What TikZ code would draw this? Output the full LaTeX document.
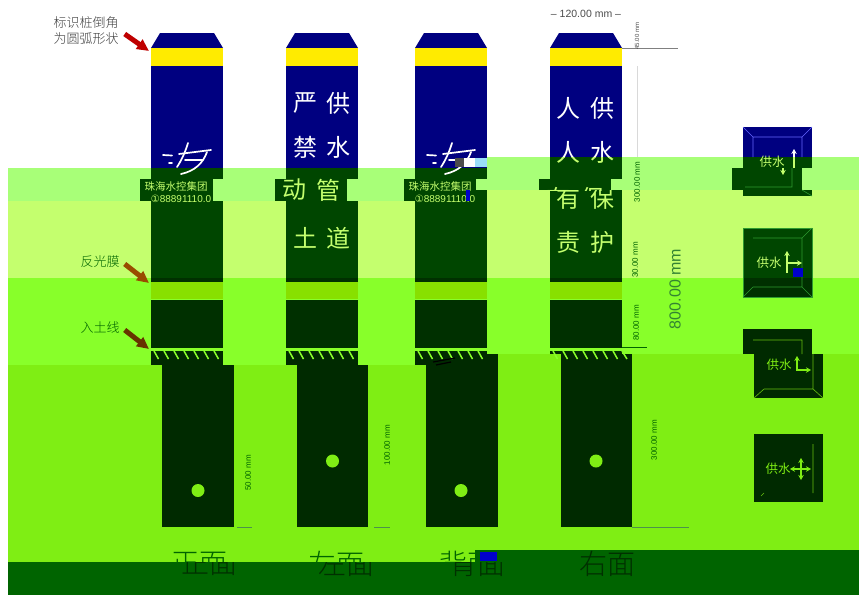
\documentclass[tikz,border=0pt]{standalone}
\usepackage{fontspec}
\setmainfont{Liberation Sans}
\newfontfamily\cjk{Noto Sans CJK SC}
\newfontfamily\cjkthin{Noto Sans CJK SC Light}
\newfontfamily\symb{DejaVu Sans}
\usetikzlibrary{arrows.meta}

\definecolor{bandA}{HTML}{A8FF78}
\definecolor{bandB}{HTML}{C4FF6E}
\definecolor{bandC}{HTML}{88FF2A}
\definecolor{bandD}{HTML}{7FEE14}
\definecolor{bandE}{HTML}{006400}
\definecolor{pilenavy}{HTML}{000080}
\definecolor{pileyellow}{HTML}{FFEB00}
\definecolor{pilegreen}{HTML}{004600}
\definecolor{pileshade}{HTML}{003000}
\definecolor{pilefoot}{HTML}{002A00}
\definecolor{pilefilm}{HTML}{88E000}
\definecolor{bevel}{HTML}{2E9A30}

\tikzset{
    pilechar/.style={font=\cjk\fontsize{24}{24}\selectfont, inner sep=0pt},
    facechar/.style={font=\cjkthin\fontsize{28}{28}\selectfont, inner sep=0pt},
    icontext/.style={font=\cjk\fontsize{12.5}{12.5}\selectfont, inner sep=0pt},
    notetext/.style={font=\cjkthin\fontsize{13}{13}\selectfont, inner sep=0pt},
    boardtext/.style={font=\cjk\fontsize{10.5}{11}\selectfont, inner sep=0pt, text=bandB},
    phonetext/.style={font=\fontsize{10}{10}\selectfont, inner sep=0pt, text=bandB},
    dimtext/.style={font=\fontsize{8}{8}\selectfont, inner sep=0pt, rotate=90},
    dimline/.style={draw=#1, line width=0.6pt},
    pointer/.style={-{Triangle[length=12pt, width=11pt]}, line width=5pt, draw=#1},
    logostroke/.style={draw=white, line width=1.7pt, line cap=round},
    iconhead/.style={-{Stealth[length=5pt, width=5.5pt]}, line width=1.4pt},
    iconarrow/.style={{Stealth[length=5pt, width=5.5pt]}-{Stealth[length=5pt, width=5.5pt]}, line width=1.4pt},
    iconedge/.style={draw=bevel, line width=0.6pt}
}

% text whose upper part sits on another band, shifted sideways
\newcommand{\cutchar}[9]{%
    \begin{scope}
        \clip (0,0) rectangle (859,#4);
        \node[#9, text=#6] (#1a) at (#2+#5,#3) {#8};
    \end{scope}
    \begin{scope}
        \clip (0,#4) rectangle (859,595);
        \node[#9, text=#7] (#1b) at (#2,#3) {#8};
    \end{scope}}

\begin{document}
\begin{tikzpicture}[x=1pt, y=-1pt]
    \useasboundingbox (0,0) rectangle (859,595);
    \fill[white] (0,0) rectangle (859,595);

    %bands
    \fill[bandA] (487,157) rectangle (859,168);
    \fill[bandA] (8,168) rectangle (859,190);
    \fill[bandA] (8,190) rectangle (415,201);
    \fill[bandB] (415,190) rectangle (859,278);
    \fill[bandB] (8,201) rectangle (415,278);
    \fill[bandC] (8,278) rectangle (859,354);
    \fill[bandC] (8,354) rectangle (487,365);
    \fill[bandD] (487,354) rectangle (859,365);
    \fill[bandD] (8,365) rectangle (859,550);
    \fill[bandD] (8,550) rectangle (475,562);
    \fill[bandE] (475,550) rectangle (859,562);
    \fill[bandE] (8,562) rectangle (859,595);

    %poles
    \foreach \px/\bot in {151/201, 286/201, 415/190, 550/190} {
        \fill[pilenavy] (\px,48) -- (\px+9,33) -- (\px+63,33) -- (\px+72,48) -- cycle;
        \fill[pileyellow] (\px,48) rectangle (\px+72,66);
        \fill[pilegreen] (\px,\bot) rectangle (\px+72,278);
        \fill[pileshade] (\px,278) rectangle (\px+72,282);
        \fill[pilefilm] (\px,282) rectangle (\px+72,299);
        \fill[pileshade] (\px,300) rectangle (\px+72,348);
    }
    \fill[pilenavy] (151,66) rectangle (223,168);
    \fill[pilenavy] (286,66) rectangle (358,168);
    \fill[pilenavy] (415,66) rectangle (487,168);
    \fill[pilenavy] (550,66) rectangle (622,157);
    \fill[pilegreen] (151,168) rectangle (223,179);
    \fill[pilegreen] (286,168) rectangle (358,179);
    \fill[pilegreen] (415,168) rectangle (487,179);
    \fill[pilegreen] (550,157) rectangle (622,179);

    %shifted boards
    \fill[pilegreen] (140,179) rectangle (213,201);
    \fill[pilegreen] (275,179) rectangle (347,201);
    \fill[pilegreen] (404,179) rectangle (476,201);
    \fill[pilegreen] (539,179) rectangle (611,190);

    %feet
    \fill[pilefoot] (151,351) rectangle (223,365);
    \fill[pilefoot] (286,351) rectangle (358,365);
    \fill[pilefoot] (415,351) rectangle (487,354);
    \fill[pilefoot] (415,354) rectangle (498,365);
    \fill[pilefoot] (550,351) rectangle (622,354);
    \fill[pilefoot] (162,365) rectangle (234,527);
    \fill[pilefoot] (297,365) rectangle (368,527);
    \fill[pilefoot] (426,365) rectangle (498,527);
    \fill[pilefoot] (561,354) rectangle (632,527);

    %hatching
    \foreach \px in {151, 286, 415, 550}
        \foreach \k in {0,...,6}
            \draw[bandC, line width=1.5pt] (\px+3+10*\k,351) -- (\px+7.5+10*\k,359);
    \draw[bandC, line width=1.5pt] (622,351) -- (627,359);

    %holes
    \fill[bandD] (198,490.5) circle (6.5);
    \fill[bandD] (332.5,461) circle (6.5);
    \fill[bandD] (461,490.5) circle (6.5);
    \fill[bandD] (596,461) circle (6.5);

    %logos
    \tikzset{logomark/.pic={
        \draw[logostroke] (0,12) -- (9,12.5) (6,20) -- (9,20);
        \draw[logostroke] (25,0) .. controls (22,10) and (18,18) .. (14,24);
        \draw[logostroke] (16,11) -- (48,7) (22,17) -- (40,17);
        \draw[logostroke] (44,9) .. controls (40,20) and (32,28) .. (18,31);
    }}
    \pic (logoa) at (163,143) {logomark};
    \pic (logob) at (427,143) {logomark};

    %pole texts
    \foreach \nm/\cx/\cy/\ch in {ya/305/103/严, yb/338/103/供, yc/305/147/禁, yd/338/147/水,
                                 re/568/108/人, rf/602/108/供}
        \node[pilechar, text=white] (\nm) at (\cx,\cy) {\ch};
    \cutchar{ye}{304}{190}{201}{-10}{bandB}{bandB}{动}{pilechar}
    \cutchar{yf}{338}{190}{201}{-10}{bandB}{bandB}{管}{pilechar}
    \node[pilechar, text=bandB] (yg) at (305,238) {土};
    \node[pilechar, text=bandB] (yh) at (338,238) {道};
    \cutchar{rg}{568}{152}{157}{0}{white}{bandB}{人}{pilechar}
    \cutchar{rh}{602}{152}{157}{0}{white}{bandB}{水}{pilechar}
    \cutchar{ri}{568}{198}{190}{-10}{bandB}{bandB}{有}{pilechar}
    \cutchar{rj}{602}{198}{190}{-10}{bandB}{bandB}{保}{pilechar}
    \node[pilechar, text=bandB] (rk) at (568,242) {责};
    \node[pilechar, text=bandB] (rl) at (602,242) {护};

    %board texts
    \node[boardtext] (boarda) at (176,186) {珠海水控集团};
    \node[phonetext] (phonea) at (181,199) {{\symb ①}88891110.0};
    \node[boardtext] (boardb) at (440,186) {珠海水控集团};
    \node[phonetext] (phoneb) at (445,199) {{\symb ①}88891110.0};

    %glitches
    \fill[black!70] (455,158) rectangle (464,167);
    \fill[white] (464,158) rectangle (475,167);
    \fill[cyan!40] (475,158) rectangle (487,167);
    \fill[blue!80!black] (466,190) rectangle (470,201);
    \draw[black, line width=1.2pt] (433,362) -- (455,358) (436,365) -- (451,362);

    %notes
    \node[notetext, text=black!75] (notea) at (86,23) {标识桩倒角};
    \node[notetext, text=black!75] (noteb) at (86,39) {为圆弧形状};
    \node[notetext, text=bandE] (notec) at (100,262) {反光膜};
    \node[notetext, text=bandE] (noted) at (100,328) {入土线};
    \coordinate (tipa) at (149,51);
    \coordinate (tipb) at (149,283);
    \coordinate (tipc) at (149,349);
    \draw[pointer={red!75!black}] (noteb.east) ++(6,-5) -- (tipa);
    \draw[pointer={orange!60!black}] (notec.east) ++(5,2) -- (tipb);
    \draw[pointer={orange!40!black}] (noted.east) ++(5,2) -- (tipc);

    %dimensions
    \node[font=\fontsize{10.5}{10.5}\selectfont, text=black!70, inner sep=0pt] (widthdim) at (586,14) {– 120.00 mm –};
    \coordinate (topa) at (622,48);
    \coordinate (topb) at (678,48);
    \coordinate (filma) at (622,347);
    \coordinate (filmb) at (647,347);
    \draw[dimline=black!50] (topa) -- (topb);
    \draw[dimline=black!15] (637,66) -- (637,157);
    \draw[dimline=bandE] (filma) -- (filmb);
    \draw[dimline=bandE!70] (237,527) -- (252,527);
    \draw[dimline=bandE!70] (374,527) -- (390,527);
    \draw[dimline=bandE!70] (632,527) -- (689,527);
    \node[dimtext, text=black!70, font=\fontsize{6}{6}\selectfont] (dima) at (637,36) {45.00 mm};
    \node[dimtext, text=bandE] (dimb) at (637,182) {300.00 mm};
    \node[dimtext, text=bandE] (dimc) at (635,260) {30.00 mm};
    \node[dimtext, text=bandE] (dimd) at (636,323) {80.00 mm};
    \node[dimtext, text=bandE!80, font=\fontsize{16}{16}\selectfont] (dime) at (675,289) {800.00 mm};
    \node[dimtext, text=bandE] (dimf) at (248,473) {50.00 mm};
    \node[dimtext, text=bandE] (dimg) at (387,445) {100.00 mm};
    \node[dimtext, text=bandE] (dimh) at (654,440) {300.00 mm};

    %face names
    \cutchar{fa}{209}{564}{562}{-10}{bandE}{pileshade}{正面}{facechar}
    \cutchar{fb}{346}{564}{562}{-10}{bandE}{pileshade}{左面}{facechar}
    \cutchar{fc}{477}{564}{562}{-10}{bandE}{pileshade}{背面}{facechar}
    \node[facechar, text=pileshade] (fd) at (607,564) {右面};
    \fill[blue!80!black] (480,552) rectangle (497,561);

    %icon up
    \fill[pilenavy] (743,127) rectangle (812,157);
    \fill[pilegreen] (743,157) rectangle (812,168);
    \fill[pilegreen] (732,168) rectangle (802,190);
    \fill[pilegreen] (743,190) rectangle (812,196);
    \draw[iconedge, draw=blue!60!white] (753,137) -- (802,137) -- (802,157) (753,137) -- (753,157)
        (743,127) -- (753,137) (812,127) -- (802,137);
    \draw[iconedge] (792,168) -- (792,187) -- (745,187) (802,190) -- (812,196);
    \node[icontext, text=bandB] (supplya) at (772,162) {供水};
    \draw[bandB, line width=1.4pt] (794,168) -- (794,157);
    \draw[iconhead, white] (794,157) -- (794,149);
    \draw[iconhead, bandB] (783,168) -- (783,175);

    %icon up right
    \fill[pilegreen] (743,228) rectangle (812,278);
    \fill[pileshade] (743,278) rectangle (812,297);
    \draw[iconedge] (743,228) rectangle (812,297);
    \draw[iconedge] (753,238) -- (802,238) -- (802,287) -- (753,287) (812,228) -- (802,238) (802,287) -- (812,297) (743,297) -- (753,287);
    \node[icontext, text=bandB] (supplyb) at (769,263) {供水};
    \draw[iconhead, bandB] (787,273) -- (787,251);
    \draw[iconhead, bandB] (787,263) -- (802,263);
    \fill[blue!80!black] (793,268) rectangle (803,277);

    %icon left
    \fill[pilefoot] (743,329) rectangle (812,354);
    \fill[pilefoot] (754,354) rectangle (823,398);
    \draw[iconedge, draw=bandD!80!black] (753,340) -- (802,340) -- (802,354) (813,354) -- (813,389) -- (764,389)
        (764,389) -- (754,398) (813,389) -- (823,398);
    \node[icontext, text=bandD] (supplyc) at (779,365) {供水};
    \draw[iconarrow, bandD] (797,356) -- (797,370) -- (811,370);

    %icon cross
    \fill[pilefoot] (754,434) rectangle (823,502);
    \draw[iconedge, draw=bandD!80!black] (813,444) -- (813,493) (764,493) -- (761,496);
    \node[icontext, text=bandD] (supplyd) at (778,469) {供水};
    \draw[iconarrow, bandD] (790,469) -- (811,469);
    \draw[iconarrow, bandD] (801,458) -- (801,480);
\end{tikzpicture}
\end{document}
